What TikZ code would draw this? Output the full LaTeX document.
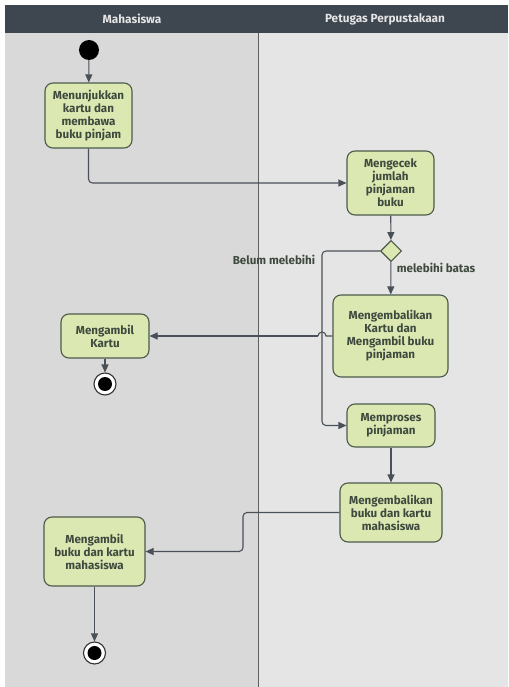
\documentclass[tikz,border=0pt]{standalone}
\usepackage{fontspec}
\setmainfont{Fira Sans}
\usetikzlibrary{arrows.meta,shapes.geometric}

\definecolor{laneL}{HTML}{D9D9D9}
\definecolor{laneR}{HTML}{E5E5E5}
\definecolor{headbg}{HTML}{3E4650}
\definecolor{boxfill}{HTML}{DCE8B2}
\definecolor{boxline}{HTML}{4C5A4A}
\definecolor{flow}{HTML}{4A5058}
\definecolor{ink}{HTML}{3E4A3E}

\tikzset{
  act/.style={draw=boxline, line width=1.1pt, fill=boxfill, rounded corners=8pt,
    align=center, text=ink, font=\bfseries\fontsize{11.6}{13}\selectfont, inner sep=2pt},
  flowline/.style={draw=flow, line width=1.1pt},
  flowarrow/.style={flowline, -{Triangle[length=8pt,width=7pt]}},
  startdot/.style={circle, fill=black, minimum size=20pt, inner sep=0pt},
  enddot/.style={circle, draw=black!80, line width=1.1pt, fill=white, minimum size=22pt, inner sep=0pt,
    path picture={\fill[black] (path picture bounding box.center) circle (7pt);}},
  decision/.style={diamond, draw=boxline, line width=1.1pt, fill=boxfill, minimum size=21pt, inner sep=0pt},
  lanehead/.style={text=white!90!black, font=\bfseries\fontsize{11.8}{13}\selectfont},
  guard/.style={text=ink, font=\bfseries\fontsize{11.6}{13}\selectfont, inner sep=0pt}
}

\begin{document}
\begin{tikzpicture}[x=1pt,y=-1pt]
  \useasboundingbox (0,0) rectangle (508,687);
  \fill[white] (0,0) rectangle (508,687);

  % swimlanes
  \fill[laneL] (5,33) rectangle (258,687);
  \fill[laneR] (258,33) rectangle (508,687);
  \fill[headbg] (5,5) rectangle (508,33);
  \draw[gray!75!black, line width=1pt] (258,33) -- (258,687);
  \node[lanehead] (hmhs) at (132,19) {Mahasiswa};
  \node[lanehead] (hpetugas) at (385,19) {Petugas Perpustakaan};

  % activities
  \node[startdot] (start) at (89,50) {};
  \node[act, minimum width=87pt, minimum height=65pt] (tunjuk) at (88.5,115.5)
    {Menunjukkan\\kartu dan\\membawa\\buku pinjam};
  \node[act, minimum width=87pt, minimum height=64pt] (cek) at (390.5,183)
    {Mengecek\\jumlah\\pinjaman\\buku};
  \node[decision] (dec) at (391,251) {};
  \node[act, minimum width=115pt, minimum height=82pt] (kembalikartu) at (390.5,336)
    {Mengembalikan\\Kartu dan\\Mengambil buku\\pinjaman};
  \node[act, minimum width=88pt, minimum height=44pt] (ambilkartu) at (105,336)
    {Mengambil\\Kartu};
  \node[enddot] (end1) at (105,384) {};
  \node[act, minimum width=88pt, minimum height=43pt] (proses) at (391,425.5)
    {Memproses\\pinjaman};
  \node[act, minimum width=102pt, minimum height=59pt] (kembalibuku) at (391,512.5)
    {Mengembalikan\\buku dan kartu\\mahasiswa};
  \node[act, minimum width=101pt, minimum height=69pt] (ambilbuku) at (94.5,551.5)
    {Mengambil\\buku dan kartu\\mahasiswa};
  \node[enddot] (end2) at (94.5,653) {};

  % guard labels
  \node[guard] (lblbelum) at (274,260) {Belum melebihi};
  \node[guard] (lblbatas) at (436,268) {melebihi batas};

  % control flow
  \coordinate (hopR) at (326,336);
  \coordinate (hopL) at (318,336);
  \draw[flowarrow] (start) -- (tunjuk);
  \draw[flowarrow, rounded corners=4pt] (tunjuk.south) |- (cek.west);
  \draw[flowarrow] (cek) -- (dec);
  \draw[flowarrow] (dec) -- (kembalikartu);
  \draw[flowarrow, rounded corners=4pt] (dec.west) -| (322,300) -- (322,425.5) -- (proses.west);
  \draw[flowline] (kembalikartu.west) -- (hopR) arc[start angle=0, end angle=180, radius=4pt];
  \draw[flowarrow] (hopL) -- (ambilkartu.east);
  \draw[flowarrow] (ambilkartu) -- (end1);
  \draw[flowarrow] (proses) -- (kembalibuku);
  \draw[flowarrow, rounded corners=4pt] (kembalibuku.west) -- (243,512.5) -- (243,551.5) -- (ambilbuku.east);
  \draw[flowarrow] (ambilbuku) -- (end2);
\end{tikzpicture}
\end{document}
